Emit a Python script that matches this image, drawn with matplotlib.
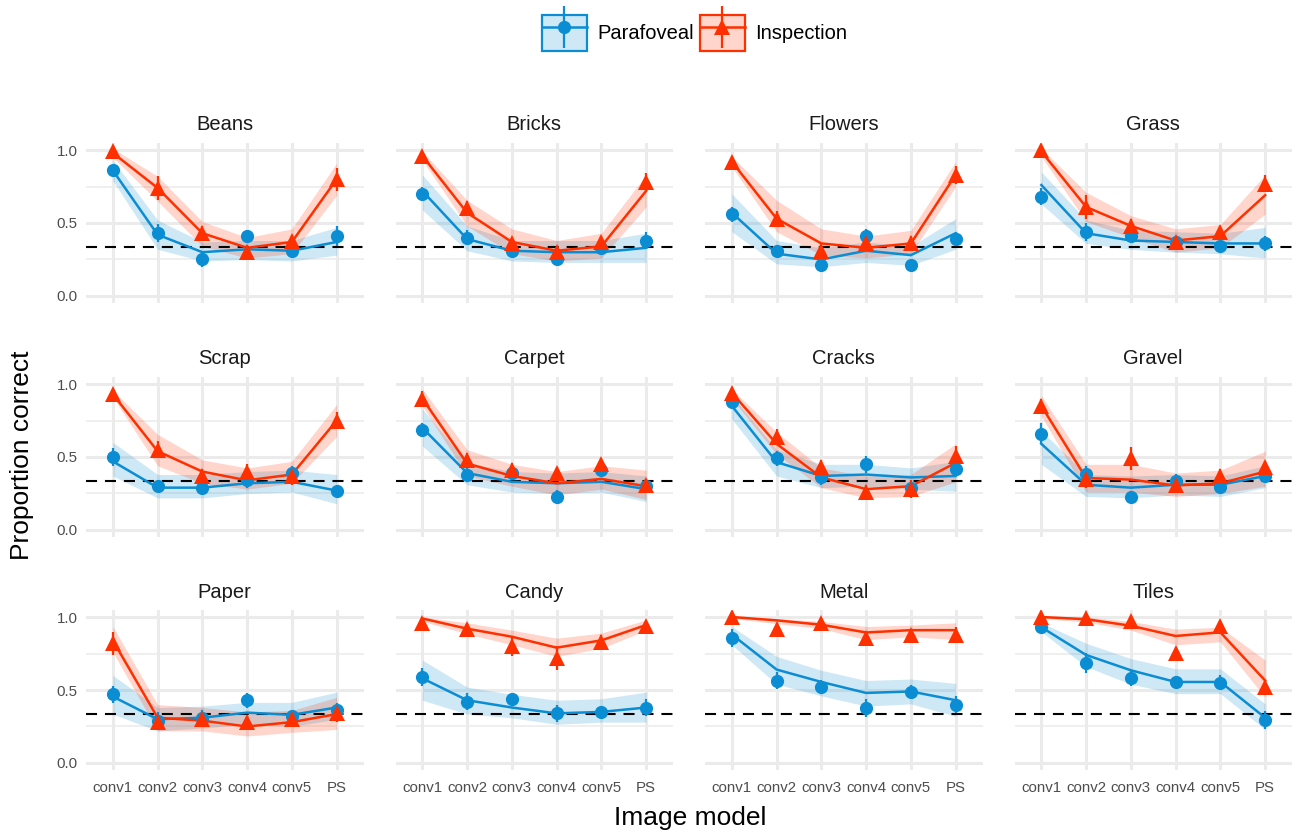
import numpy as np
import matplotlib.pyplot as plt
from matplotlib.colors import to_rgb
from matplotlib.lines import Line2D
from matplotlib.patches import Patch
from matplotlib.legend_handler import HandlerTuple

plt.rcParams['font.family'] = ['Liberation Sans', 'DejaVu Sans']

models = ['conv1', 'conv2', 'conv3', 'conv4', 'conv5', 'PS']
textures = ['Beans', 'Bricks', 'Flowers', 'Grass',
            'Scrap', 'Carpet', 'Cracks', 'Gravel',
            'Paper', 'Candy', 'Metal', 'Tiles']
chance = 1 / 3

# observed proportion correct, one row per texture
para_obs = [
    [0.86, 0.43, 0.25, 0.41, 0.31, 0.41],
    [0.70, 0.40, 0.31, 0.25, 0.33, 0.38],
    [0.56, 0.31, 0.21, 0.41, 0.21, 0.39],
    [0.68, 0.44, 0.41, 0.37, 0.34, 0.36],
    [0.50, 0.30, 0.29, 0.34, 0.39, 0.27],
    [0.685, 0.38, 0.39, 0.225, 0.41, 0.30],
    [0.88, 0.49, 0.36, 0.45, 0.29, 0.42],
    [0.66, 0.385, 0.225, 0.335, 0.295, 0.37],
    [0.47, 0.29, 0.31, 0.43, 0.32, 0.36],
    [0.59, 0.42, 0.44, 0.34, 0.35, 0.38],
    [0.855, 0.565, 0.52, 0.375, 0.485, 0.40],
    [0.93, 0.685, 0.58, 0.555, 0.55, 0.295],
]
insp_obs = [
    [0.99, 0.74, 0.43, 0.30, 0.38, 0.80],
    [0.96, 0.60, 0.36, 0.30, 0.37, 0.78],
    [0.92, 0.53, 0.31, 0.36, 0.36, 0.83],
    [1.00, 0.61, 0.48, 0.37, 0.44, 0.77],
    [0.93, 0.55, 0.37, 0.40, 0.37, 0.75],
    [0.90, 0.48, 0.41, 0.39, 0.45, 0.31],
    [0.94, 0.64, 0.43, 0.26, 0.28, 0.505],
    [0.85, 0.35, 0.49, 0.31, 0.37, 0.43],
    [0.82, 0.28, 0.30, 0.28, 0.30, 0.34],
    [0.96, 0.92, 0.80, 0.72, 0.83, 0.94],
    [1.00, 0.92, 0.96, 0.855, 0.88, 0.88],
    [1.00, 0.995, 0.97, 0.755, 0.94, 0.52],
]

# half-width of the error bars on the observed points
para_err = [
    [0.03, 0.06, 0.05, 0.04, 0.04, 0.07],
    [0.05, 0.05, 0.04, 0.04, 0.04, 0.06],
    [0.05, 0.04, 0.04, 0.05, 0.04, 0.05],
    [0.06, 0.06, 0.04, 0.04, 0.04, 0.05],
    [0.06, 0.04, 0.05, 0.05, 0.05, 0.03],
    [0.05, 0.05, 0.05, 0.05, 0.04, 0.05],
    [0.03, 0.05, 0.05, 0.06, 0.04, 0.04],
    [0.07, 0.05, 0.04, 0.05, 0.04, 0.04],
    [0.06, 0.06, 0.05, 0.05, 0.04, 0.05],
    [0.06, 0.06, 0.04, 0.06, 0.04, 0.06],
    [0.06, 0.06, 0.05, 0.06, 0.05, 0.06],
    [0.03, 0.07, 0.05, 0.04, 0.05, 0.06],
]
insp_err = [
    [0.01, 0.08, 0.05, 0.05, 0.04, 0.08],
    [0.03, 0.05, 0.04, 0.04, 0.04, 0.06],
    [0.04, 0.05, 0.05, 0.04, 0.05, 0.06],
    [0.01, 0.08, 0.05, 0.04, 0.04, 0.06],
    [0.03, 0.06, 0.05, 0.05, 0.06, 0.06],
    [0.05, 0.05, 0.05, 0.04, 0.04, 0.04],
    [0.03, 0.05, 0.05, 0.05, 0.06, 0.07],
    [0.05, 0.06, 0.08, 0.05, 0.05, 0.04],
    [0.08, 0.05, 0.05, 0.04, 0.05, 0.06],
    [0.03, 0.03, 0.07, 0.08, 0.05, 0.03],
    [0.01, 0.04, 0.03, 0.04, 0.03, 0.05],
    [0.01, 0.02, 0.03, 0.04, 0.03, 0.05],
]

# model fit with its credible band (lower / upper)
para_fit = [
    [0.86, 0.42, 0.30, 0.32, 0.31, 0.37],
    [0.72, 0.39, 0.31, 0.30, 0.30, 0.33],
    [0.57, 0.29, 0.25, 0.31, 0.28, 0.43],
    [0.76, 0.43, 0.38, 0.37, 0.36, 0.36],
    [0.47, 0.29, 0.29, 0.32, 0.33, 0.27],
    [0.70, 0.39, 0.33, 0.32, 0.33, 0.28],
    [0.85, 0.465, 0.37, 0.38, 0.36, 0.37],
    [0.59, 0.31, 0.29, 0.31, 0.31, 0.37],
    [0.455, 0.30, 0.31, 0.345, 0.33, 0.38],
    [0.58, 0.43, 0.38, 0.34, 0.35, 0.38],
    [0.88, 0.64, 0.555, 0.48, 0.49, 0.43],
    [0.93, 0.74, 0.635, 0.555, 0.555, 0.31],
]
para_lo = [
    [0.79, 0.32, 0.24, 0.25, 0.24, 0.28],
    [0.59, 0.31, 0.24, 0.23, 0.23, 0.23],
    [0.44, 0.22, 0.20, 0.23, 0.21, 0.32],
    [0.63, 0.36, 0.32, 0.30, 0.29, 0.26],
    [0.37, 0.22, 0.22, 0.25, 0.26, 0.18],
    [0.575, 0.31, 0.26, 0.25, 0.26, 0.195],
    [0.76, 0.37, 0.29, 0.30, 0.28, 0.265],
    [0.45, 0.23, 0.22, 0.24, 0.23, 0.29],
    [0.335, 0.22, 0.24, 0.265, 0.25, 0.30],
    [0.43, 0.335, 0.31, 0.265, 0.28, 0.28],
    [0.81, 0.54, 0.46, 0.39, 0.405, 0.32],
    [0.90, 0.66, 0.54, 0.475, 0.475, 0.23],
]
para_hi = [
    [0.93, 0.52, 0.37, 0.38, 0.38, 0.47],
    [0.83, 0.48, 0.38, 0.38, 0.38, 0.43],
    [0.70, 0.38, 0.33, 0.37, 0.34, 0.53],
    [0.85, 0.52, 0.45, 0.44, 0.43, 0.47],
    [0.60, 0.38, 0.38, 0.40, 0.41, 0.38],
    [0.83, 0.46, 0.40, 0.39, 0.40, 0.37],
    [0.92, 0.55, 0.45, 0.45, 0.425, 0.47],
    [0.68, 0.38, 0.37, 0.38, 0.37, 0.44],
    [0.60, 0.38, 0.39, 0.415, 0.415, 0.485],
    [0.705, 0.52, 0.47, 0.43, 0.44, 0.485],
    [0.935, 0.73, 0.635, 0.565, 0.575, 0.545],
    [0.96, 0.82, 0.715, 0.645, 0.645, 0.405],
]

insp_fit = [
    [0.98, 0.74, 0.43, 0.33, 0.37, 0.80],
    [0.96, 0.57, 0.37, 0.31, 0.34, 0.72],
    [0.92, 0.53, 0.36, 0.33, 0.36, 0.83],
    [0.99, 0.61, 0.48, 0.38, 0.41, 0.69],
    [0.93, 0.54, 0.40, 0.34, 0.38, 0.75],
    [0.90, 0.455, 0.37, 0.32, 0.35, 0.30],
    [0.94, 0.59, 0.36, 0.28, 0.30, 0.46],
    [0.85, 0.356, 0.345, 0.305, 0.32, 0.40],
    [0.84, 0.31, 0.29, 0.25, 0.28, 0.335],
    [0.99, 0.92, 0.865, 0.79, 0.84, 0.945],
    [1.00, 0.977, 0.947, 0.894, 0.91, 0.91],
    [1.00, 0.985, 0.94, 0.87, 0.895, 0.565],
]
insp_lo = [
    [0.95, 0.65, 0.34, 0.26, 0.29, 0.69],
    [0.93, 0.48, 0.29, 0.24, 0.26, 0.61],
    [0.885, 0.44, 0.28, 0.26, 0.29, 0.75],
    [0.955, 0.51, 0.40, 0.30, 0.33, 0.56],
    [0.91, 0.44, 0.32, 0.28, 0.32, 0.64],
    [0.85, 0.37, 0.30, 0.24, 0.28, 0.21],
    [0.90, 0.52, 0.29, 0.22, 0.23, 0.33],
    [0.78, 0.26, 0.26, 0.23, 0.25, 0.30],
    [0.76, 0.22, 0.22, 0.185, 0.21, 0.23],
    [0.97, 0.885, 0.81, 0.73, 0.785, 0.91],
    [0.99, 0.955, 0.92, 0.845, 0.865, 0.845],
    [0.99, 0.965, 0.91, 0.81, 0.83, 0.45],
]
insp_hi = [
    [1.01, 0.82, 0.51, 0.40, 0.46, 0.91],
    [0.99, 0.655, 0.46, 0.38, 0.43, 0.83],
    [0.955, 0.655, 0.46, 0.41, 0.45, 0.92],
    [1.01, 0.71, 0.55, 0.46, 0.49, 0.83],
    [0.955, 0.655, 0.48, 0.425, 0.47, 0.86],
    [0.965, 0.55, 0.45, 0.40, 0.44, 0.41],
    [0.965, 0.67, 0.425, 0.37, 0.38, 0.59],
    [0.92, 0.45, 0.45, 0.39, 0.41, 0.54],
    [0.935, 0.40, 0.38, 0.35, 0.36, 0.45],
    [1.00, 0.96, 0.91, 0.855, 0.89, 0.98],
    [1.00, 0.99, 0.97, 0.935, 0.945, 0.96],
    [1.00, 1.00, 0.97, 0.917, 0.93, 0.705],
]

blue = '#0A8DD3'
red = '#FF3000'
grid_col = '#EBEBEB'
tick_col = '#4D4D4D'

W, H = 1298, 832
fig = plt.figure(figsize=(W / 100, H / 100), dpi=100)

col_left = [86, 395.5, 705, 1014.5]
row_top = [143, 377, 610]
pw, ph = 277.5, 160

x = np.arange(1, len(models) + 1)

series = [
    (para_obs, para_err, para_fit, para_lo, para_hi, blue, 'o', 9.5),
    (insp_obs, insp_err, insp_fit, insp_lo, insp_hi, red, '^', 11),
]

for i, name in enumerate(textures):
    r, c = divmod(i, 4)
    ax = fig.add_axes([col_left[c] / W, 1 - (row_top[r] + ph) / H, pw / W, ph / H])
    ax.set_axisbelow(True)
    for obs, err, fit, lo, hi, col, mk, ms in series:
        ax.fill_between(x, lo[i], hi[i], color=col, alpha=0.2, lw=0, zorder=1)
    ax.axhline(chance, color='black', lw=1.5, dashes=(5.3, 3.8), zorder=2)
    for obs, err, fit, lo, hi, col, mk, ms in series:
        ax.plot(x, fit[i], color=col, lw=1.8, zorder=3)
        ax.errorbar(x, obs[i], yerr=err[i], fmt=mk, color=col, ms=ms,
                    elinewidth=1.6, capsize=0, mew=0, zorder=4)

    ax.set_xlim(0.4, 6.6)
    ax.set_ylim(-0.048, 1.048)
    ax.set_xticks(x)
    ax.set_yticks([0, 0.5, 1.0])
    ax.set_yticks([0.25, 0.75], minor=True)
    ax.grid(which='major', color=grid_col, lw=2.2)
    ax.grid(which='minor', axis='y', color=grid_col, lw=1.1)
    for s in ax.spines.values():
        s.set_visible(False)
    ax.tick_params(which='both', length=0, labelsize=10.8, labelcolor=tick_col)
    ax.tick_params(axis='y', pad=6)
    ax.tick_params(axis='x', pad=8)
    if r == 2:
        ax.set_xticklabels(models)
    else:
        ax.set_xticklabels([])
    if c == 0:
        ax.set_yticklabels(['0.0', '0.5', '1.0'])
    else:
        ax.set_yticklabels([])
    ax.set_title(name, fontsize=14.5, color='#1A1A1A', pad=9)

fig.text(0.017, 1 - 455 / H, 'Proportion correct', rotation=90,
         ha='center', va='center', fontsize=19)
fig.text(0.532, 1 - 818 / H, 'Image model', ha='center', va='center', fontsize=19)

# legend keys: band + line with point + vertical error bar, stacked in one box
handles = []
for col, mk, ms in [(blue, 'o', 9.5), (red, '^', 11)]:
    box = Patch(facecolor=(*to_rgb(col), 0.2), edgecolor=col, lw=1.6)
    line = Line2D([], [], color=col, lw=1.8, marker=mk, ms=ms, mew=0)
    vbar = Line2D([], [], color=col, ls='none', marker='|', ms=30, mew=1.6)
    handles.append((box, line, vbar))

fig.legend(handles, ['Parafoveal', 'Inspection'], loc='center',
           bbox_to_anchor=(0.535, 1 - 33 / H), ncol=2, frameon=False,
           handler_map={tuple: HandlerTuple(ndivide=1, pad=0)}, numpoints=1,
           handlelength=2.25, handleheight=2.3, handletextpad=0.5,
           columnspacing=0.3, fontsize=14.5)

fig.savefig('out.png', dpi=100)
